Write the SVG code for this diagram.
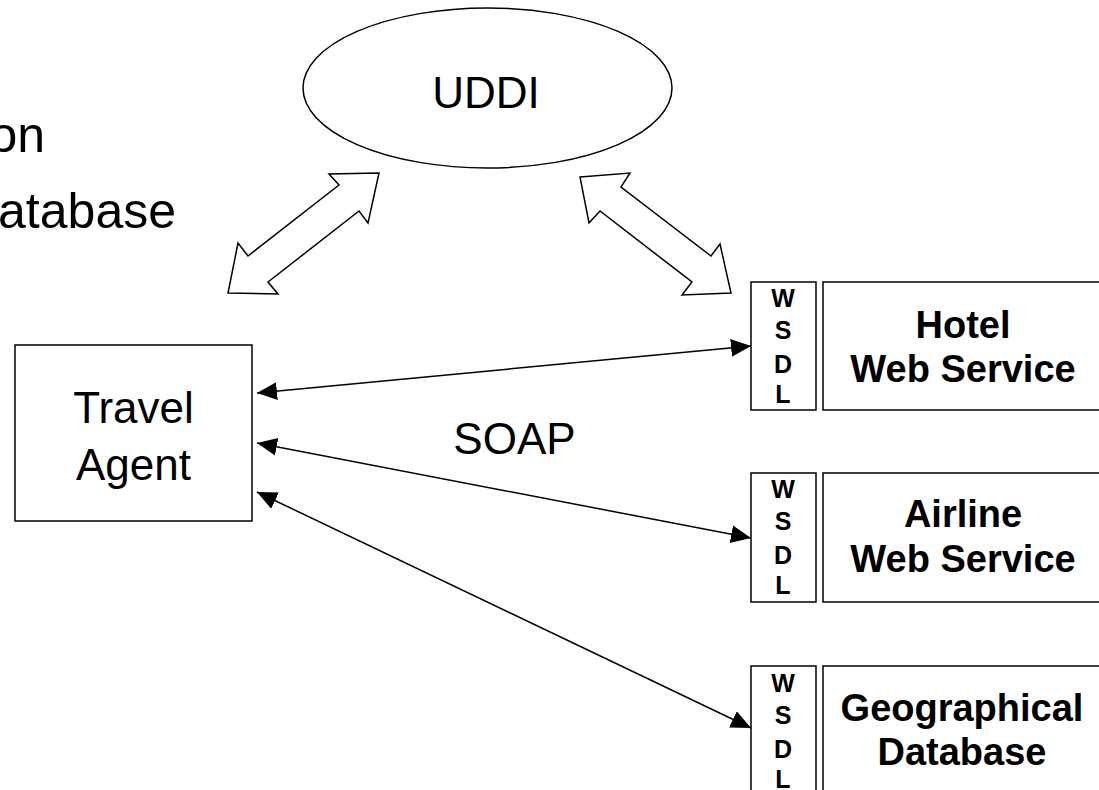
<svg xmlns="http://www.w3.org/2000/svg" width="1099" height="790" viewBox="0 0 1099 790">
<style>
  .reg { font-family: "Liberation Sans", Arial, sans-serif; font-size: 44px; fill: #000; }
  .bold { font-family: "Liberation Sans", Arial, sans-serif; font-size: 38px; font-weight: bold; fill: #000; text-anchor: middle; }
  .wsdl { font-family: "Liberation Sans", Arial, sans-serif; font-size: 25px; font-weight: bold; fill: #000; text-anchor: middle; }
  .box { fill: #fff; stroke: #000; stroke-width: 1.5; }
  .conn { fill: none; stroke: #000; stroke-width: 1.5; }
  .block { fill: #fff; stroke: #000; stroke-width: 1.5; stroke-linejoin: miter; }
</style>
<defs>
  <marker id="ah" markerUnits="userSpaceOnUse" markerWidth="22" markerHeight="20" refX="20" refY="9" orient="auto-start-reverse">
    <path d="M0,0 L20,9 L0,18 Z" fill="#000"/>
  </marker>
</defs>
<rect width="1099" height="790" fill="#fff"/>

<g id="bullet-text">
  <text class="reg" x="45" y="152" text-anchor="end" style="font-size:50px">on</text>
  <text class="reg" x="176" y="228" text-anchor="end" style="font-size:50px">atabase</text>
</g>

<g id="uddi">
  <ellipse class="box" cx="487.5" cy="88" rx="184.5" ry="80"/>
  <text class="reg" x="486" y="108" text-anchor="middle">UDDI</text>
</g>

<g id="travel-agent">
  <rect class="box" x="15" y="345" width="237" height="176"/>
  <text class="reg" x="133.5" y="423" text-anchor="middle">Travel</text>
  <text class="reg" x="133.5" y="480" text-anchor="middle">Agent</text>
</g>

<g id="hotel">
  <rect class="box" x="751" y="282" width="65" height="128"/>
  <text class="wsdl" x="783" y="307">W</text>
  <text class="wsdl" x="783" y="339">S</text>
  <text class="wsdl" x="783" y="373">D</text>
  <text class="wsdl" x="783" y="403">L</text>
  <rect class="box" x="823" y="282" width="290" height="128"/>
  <text class="bold" x="963" y="338">Hotel</text>
  <text class="bold" x="963" y="382">Web Service</text>
</g>

<g id="airline">
  <rect class="box" x="751" y="473" width="65" height="129"/>
  <text class="wsdl" x="783" y="498">W</text>
  <text class="wsdl" x="783" y="530">S</text>
  <text class="wsdl" x="783" y="564">D</text>
  <text class="wsdl" x="783" y="594">L</text>
  <rect class="box" x="823" y="473" width="290" height="129"/>
  <text class="bold" x="963" y="527">Airline</text>
  <text class="bold" x="963" y="572">Web Service</text>
</g>

<g id="geo">
  <rect class="box" x="751" y="666" width="65" height="140"/>
  <text class="wsdl" x="783" y="692">W</text>
  <text class="wsdl" x="783" y="724">S</text>
  <text class="wsdl" x="783" y="758">D</text>
  <text class="wsdl" x="783" y="788">L</text>
  <rect class="box" x="823" y="666" width="290" height="140"/>
  <text class="bold" x="962" y="721">Geographical</text>
  <text class="bold" x="962" y="765">Database</text>
</g>

<g id="connectors">
  <polygon class="block" points="379,173 329,174 339,185 248,256 238,243 228,293 278,294 268,282 359,211 368,223"/>
  <polygon class="block" points="580,177 630,173 621,187 711,256 720,244 731,293 682,295 692,282 600,211 589,223"/>
  <line class="conn" x1="257" y1="393" x2="751" y2="346" marker-start="url(#ah)" marker-end="url(#ah)"/>
  <line class="conn" x1="257" y1="443" x2="751" y2="538" marker-start="url(#ah)" marker-end="url(#ah)"/>
  <line class="conn" x1="257" y1="492" x2="751" y2="728" marker-start="url(#ah)" marker-end="url(#ah)"/>
  <text class="reg" x="514.5" y="454" text-anchor="middle">SOAP</text>
</g>
</svg>
